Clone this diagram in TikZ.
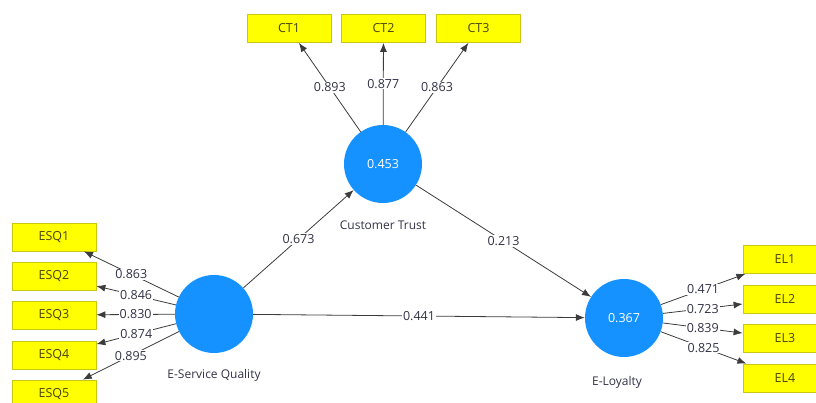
\documentclass[tikz,border=0pt]{standalone}
\usepackage{fontspec}
\setmainfont{Open Sans}
\usepackage{tikz}
\usetikzlibrary{arrows.meta}

\definecolor{itemfill}{RGB}{255,255,0}
\definecolor{itemdraw}{RGB}{200,200,20}
\definecolor{itemtext}{RGB}{70,70,20}
\definecolor{latentfill}{RGB}{21,146,255}
\definecolor{pathgray}{RGB}{60,60,60}
\definecolor{valtext}{RGB}{50,50,70}

\tikzset{
    item/.style={draw=itemdraw, fill=itemfill, line width=0.8pt, minimum width=84pt,
        minimum height=28pt, inner sep=0pt, text=itemtext, font=\fontsize{12.5}{13}\selectfont},
    latent/.style={circle, fill=latentfill, minimum size=78pt, inner sep=0pt,
        text=white, font=\fontsize{12.5}{13}\selectfont},
    latname/.style={text=valtext, font=\fontsize{12}{13}\selectfont},
    load/.style={draw=pathgray, line width=0.8pt, -{Latex[length=9pt,width=7pt]}},
    val/.style={fill=white, inner sep=1pt, text=valtext, font=\fontsize{12.5}{13}\selectfont}
}

\begin{document}
\begin{tikzpicture}[x=1pt, y=-1pt]
    \useasboundingbox (0,0) rectangle (816,403);
    \clip (0,0) rectangle (816,403);

    % latent variables
    \node[latent] (esq) at (214,314) {};
    \node[latent] (ct) at (383,164) {0.453};
    \node[latent] (el) at (624,318) {0.367};

    \node[latname] (esqname) at (214,375) {E-Service Quality};
    \node[latname] (ctname) at (383,225) {Customer Trust};
    \node[latname] (elname) at (617,382) {E-Loyalty};

    % indicators
    \node[item] (esq1) at (54,237) {ESQ1};
    \node[item] (esq2) at (54,276) {ESQ2};
    \node[item] (esq3) at (54,315) {ESQ3};
    \node[item] (esq4) at (54,355) {ESQ4};
    \node[item] (esq5) at (54,394) {ESQ5};

    \node[item] (ct1) at (289,28.5) {CT1};
    \node[item] (ct2) at (383.5,28.5) {CT2};
    \node[item] (ct3) at (478.5,28.5) {CT3};

    \node[item] (el1) at (785,259.5) {EL1};
    \node[item] (el2) at (785,299) {EL2};
    \node[item] (el3) at (785,338.5) {EL3};
    \node[item] (el4) at (785,378) {EL4};

    % outer loadings
    \draw[load] (esq) -- node[val] {0.863} (esq1);
    \draw[load] (esq) -- node[val] {0.846} (esq2);
    \draw[load] (esq) -- node[val] {0.830} (esq3);
    \draw[load] (esq) -- node[val] {0.874} (esq4);
    \draw[load] (esq) -- node[val] {0.895} (esq5);

    \draw[load] (ct) -- node[val] {0.893} (ct1);
    \draw[load] (ct) -- node[val] {0.877} (ct2);
    \draw[load] (ct) -- node[val] {0.863} (ct3);

    \draw[load] (el) -- node[val] {0.471} (el1);
    \draw[load] (el) -- node[val] {0.723} (el2);
    \draw[load] (el) -- node[val] {0.839} (el3);
    \draw[load] (el) -- node[val] {0.825} (el4);

    % path coefficients
    \draw[load] (esq) -- node[val] {0.673} (ct);
    \draw[load] (ct) -- node[val] {0.213} (el);
    \draw[load] (esq) -- node[val] {0.441} (el);
\end{tikzpicture}
\end{document}
